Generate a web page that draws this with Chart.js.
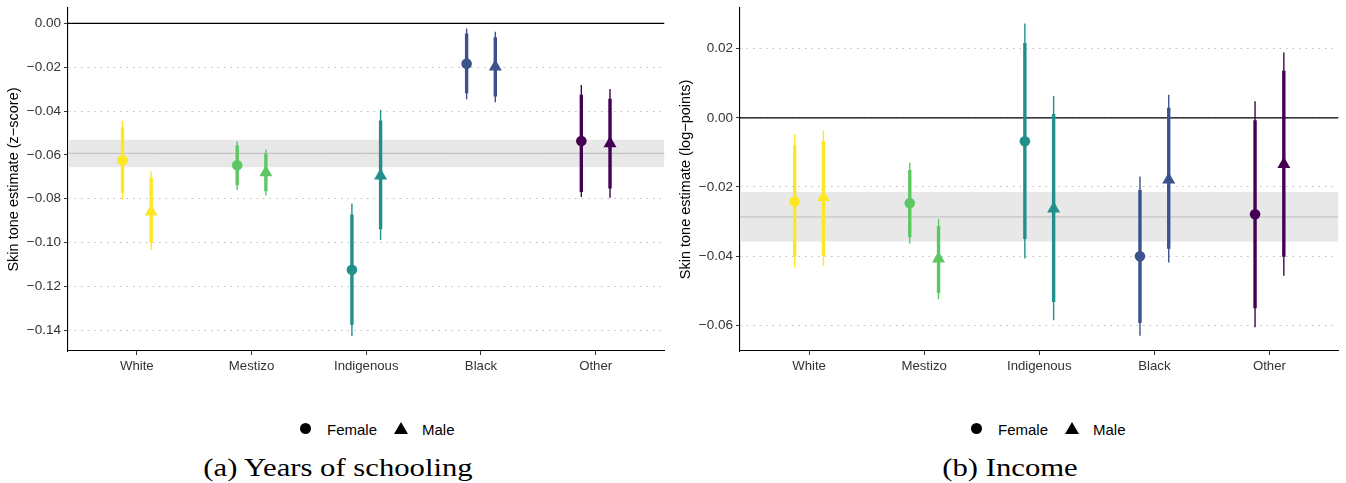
<!DOCTYPE html>
<html><head><meta charset="utf-8">
<script src="https://cdn.jsdelivr.net/npm/chart.js@4.4.1/dist/chart.umd.min.js"></script>
<style>
html,body{margin:0;padding:0;background:#fff;width:1346px;height:483px;overflow:hidden;position:relative;font-family:"Liberation Sans",Arial,sans-serif;}
canvas{position:absolute;top:0;}
#cA{left:0} #cB{left:672px}
.leg{position:absolute;font-size:15px;line-height:15px;color:#000;white-space:nowrap}
.dot{position:absolute;width:11px;height:11px;border-radius:50%;background:#000}
.tri{position:absolute;width:0;height:0;border-left:7px solid transparent;border-right:7px solid transparent;border-bottom:12px solid #000}
.cap{position:absolute;font-family:"Liberation Serif","Times New Roman",serif;font-size:26px;line-height:26px;white-space:nowrap;transform:translateX(-50%) scaleX(1.18);color:#000}
</style></head><body>
<canvas id="cA" width="672" height="400"></canvas>
<canvas id="cB" width="674" height="400"></canvas>

<div class="dot" style="left:300px;top:423px"></div>
<div class="leg" style="left:327px;top:422px">Female</div>
<div class="tri" style="left:394px;top:422px"></div>
<div class="leg" style="left:422px;top:422px">Male</div>

<div class="dot" style="left:971px;top:423px"></div>
<div class="leg" style="left:998px;top:422px">Female</div>
<div class="tri" style="left:1065px;top:422px"></div>
<div class="leg" style="left:1093px;top:422px">Male</div>

<div class="cap" style="left:338px;top:455px">(a) Years of schooling</div>
<div class="cap" style="left:1010px;top:455px">(b) Income</div>

<script>
const categories = ['White', 'Mestizo', 'Indigenous', 'Black', 'Other'];
const categoryColors = ['#FDE725', '#5DC863', '#21908C', '#3B528B', '#440154'];

// (a) Years of schooling
const schoolingYTicks = [0, -0.02, -0.04, -0.06, -0.08, -0.10, -0.12, -0.14];
const schoolingYLabels = ['0.00', '\u22120.02', '\u22120.04', '\u22120.06', '\u22120.08', '\u22120.10', '\u22120.12', '\u22120.14'];
const schoolingFemaleEst    = [-0.0625, -0.0648, -0.1124, -0.0184, -0.0537];
const schoolingFemaleLow90  = [-0.0774, -0.0739, -0.1376, -0.0319, -0.0770];
const schoolingFemaleHigh90 = [-0.0475, -0.0557, -0.0872, -0.0046, -0.0326];
const schoolingFemaleLow95  = [-0.0804, -0.0760, -0.1426, -0.0346, -0.0792];
const schoolingFemaleHigh95 = [-0.0446, -0.0538, -0.0822, -0.0023, -0.0281];
const schoolingMaleEst      = [-0.0860, -0.0680, -0.0695, -0.0198, -0.0548];
const schoolingMaleLow90    = [-0.1001, -0.0766, -0.0940, -0.0334, -0.0754];
const schoolingMaleHigh90   = [-0.0705, -0.0595, -0.0443, -0.0064, -0.0344];
const schoolingMaleLow95    = [-0.1034, -0.0786, -0.0989, -0.0360, -0.0796];
const schoolingMaleHigh95   = [-0.0675, -0.0576, -0.0394, -0.0038, -0.0300];
const schoolingPooled       = [-0.0593, -0.0657, -0.0531]; // estimate, low, high

// (b) Income
const incomeYTicks = [0.02, 0, -0.02, -0.04, -0.06];
const incomeYLabels = ['0.02', '0.00', '\u22120.02', '\u22120.04', '\u22120.06'];
const incomeFemaleEst    = [-0.0242, -0.0247, -0.0068, -0.0401, -0.0279];
const incomeFemaleLow90  = [-0.0402, -0.0346, -0.0351, -0.0594, -0.0551];
const incomeFemaleHigh90 = [-0.0079, -0.0151, 0.0217, -0.0209, -0.0007];
const incomeFemaleLow95  = [-0.0433, -0.0364, -0.0407, -0.0631, -0.0606];
const incomeFemaleHigh95 = [-0.0048, -0.0130, 0.0273, -0.0170, 0.0048];
const incomeMaleEst      = [-0.0230, -0.0408, -0.0263, -0.0179, -0.0134];
const incomeMaleLow90    = [-0.0400, -0.0507, -0.0533, -0.0379, -0.0402];
const incomeMaleHigh90   = [-0.0067, -0.0313, 0.0011, 0.0029, 0.0136];
const incomeMaleLow95    = [-0.0428, -0.0525, -0.0586, -0.0419, -0.0457];
const incomeMaleHigh95   = [-0.0036, -0.0293, 0.0063, 0.0067, 0.0189];
const incomePooled       = [-0.0287, -0.0358, -0.0215];

const FONT = '"Liberation Sans", Arial, sans-serif';
const DODGE = 0.125;
const XMIN = -0.6, XMAX = 4.6;

function makeChart(id, cfg) {
  const ds = [];
  // pooled band
  ds.push({ data: [{x: XMIN, y: cfg.pooled[2]}, {x: XMAX, y: cfg.pooled[2]}],
    fill: {value: cfg.pooled[1]}, backgroundColor: '#E8E8E8', borderColor: 'rgba(0,0,0,0)',
    borderWidth: 0, pointRadius: 0, order: 20 });
  ds.push({ data: [{x: XMIN, y: cfg.pooled[0]}, {x: XMAX, y: cfg.pooled[0]}],
    borderColor: '#BBBBBB', borderWidth: 1, pointRadius: 0, fill: false, order: 19 });
  // zero line
  ds.push({ data: [{x: XMIN, y: 0}, {x: XMAX, y: 0}],
    borderColor: '#000', borderWidth: 1.3, pointRadius: 0, fill: false, order: 18 });
  // error bars
  categories.forEach((c, i) => {
    ds.push({ data: [
        {x: i - DODGE, y: cfg.fLo95[i]}, {x: i - DODGE, y: cfg.fHi95[i]}, {x: i, y: null},
        {x: i + DODGE, y: cfg.mLo95[i]}, {x: i + DODGE, y: cfg.mHi95[i]}],
      borderColor: categoryColors[i], borderWidth: 1.4, borderCapStyle: 'butt',
      pointRadius: 0, fill: false, spanGaps: false, order: 10 });
    ds.push({ data: [
        {x: i - DODGE, y: cfg.fLo90[i]}, {x: i - DODGE, y: cfg.fHi90[i]}, {x: i, y: null},
        {x: i + DODGE, y: cfg.mLo90[i]}, {x: i + DODGE, y: cfg.mHi90[i]}],
      borderColor: categoryColors[i], borderWidth: 3.4, borderCapStyle: 'butt',
      pointRadius: 0, fill: false, spanGaps: false, order: 9 });
  });
  // points
  ds.push({ data: categories.map((c, i) => ({x: i - DODGE, y: cfg.fEst[i]})),
    showLine: false, pointStyle: 'circle', pointRadius: 5.3, pointBorderWidth: 0,
    pointBackgroundColor: categoryColors, pointBorderColor: categoryColors, order: 1 });
  ds.push({ data: categories.map((c, i) => ({x: i + DODGE, y: cfg.mEst[i]})),
    showLine: false, pointStyle: 'triangle', pointRadius: 7.5, pointBorderWidth: 0,
    pointBackgroundColor: categoryColors, pointBorderColor: categoryColors, order: 0 });

  return new Chart(document.getElementById(id), {
    type: 'line',
    data: { datasets: ds },
    options: {
      responsive: false, animation: false, devicePixelRatio: 1,
      layout: { padding: { top: 8, right: cfg.padRight, bottom: 0, left: 0 } },
      plugins: { legend: { display: false }, tooltip: { enabled: false } },
      events: [],
      scales: {
        x: {
          type: 'linear', min: XMIN, max: XMAX,
          afterBuildTicks: s => { s.ticks = categories.map((c, i) => ({ value: i })); },
          afterFit: s => { s.height = 49; s.paddingLeft = 0; s.paddingRight = 0; },
          ticks: { autoSkip: false, maxRotation: 0, padding: 3, color: '#333',
            font: { family: FONT, size: 13.2 },
            callback: v => categories[Math.round(v)] },
          grid: { drawOnChartArea: false, drawTicks: true, tickLength: 4, tickColor: '#333', tickWidth: 1 },
          border: { display: true, color: '#000', width: 1.1 }
        },
        y: {
          type: 'linear', min: cfg.yMin, max: cfg.yMax,
          afterBuildTicks: s => { s.ticks = cfg.yTicks.map(v => ({ value: v })); },
          afterFit: s => { s.width = 68; s.paddingTop = 0; s.paddingBottom = 0; },
          ticks: { padding: 3, color: '#333', font: { family: FONT, size: 13.5 },
            callback: v => cfg.yLabels[cfg.yTicks.indexOf(v)] },
          grid: { color: '#BDBDBD', lineWidth: 1, drawTicks: true, tickLength: 4,
            tickColor: '#333', tickWidth: 1, tickBorderDash: [] },
          border: { display: true, color: '#000', width: 1.1, dash: [1.5, 5] },
          title: { display: true, text: cfg.title, color: '#000',
            font: { family: FONT, size: 14.5 }, padding: { top: 4.8, bottom: 0 } }
        }
      }
    }
  });
}

makeChart('cA', {
  yMin: -0.1495, yMax: 0.0070, yTicks: schoolingYTicks, yLabels: schoolingYLabels,
  title: 'Skin tone estimate (z\u2212score)', padRight: 0,
  fEst: schoolingFemaleEst, fLo90: schoolingFemaleLow90, fHi90: schoolingFemaleHigh90,
  fLo95: schoolingFemaleLow95, fHi95: schoolingFemaleHigh95,
  mEst: schoolingMaleEst, mLo90: schoolingMaleLow90, mHi90: schoolingMaleHigh90,
  mLo95: schoolingMaleLow95, mHi95: schoolingMaleHigh95, pooled: schoolingPooled
});
makeChart('cB', {
  yMin: -0.0675, yMax: 0.0318, yTicks: incomeYTicks, yLabels: incomeYLabels,
  title: 'Skin tone estimate (log\u2212points)', padRight: 3,
  fEst: incomeFemaleEst, fLo90: incomeFemaleLow90, fHi90: incomeFemaleHigh90,
  fLo95: incomeFemaleLow95, fHi95: incomeFemaleHigh95,
  mEst: incomeMaleEst, mLo90: incomeMaleLow90, mHi90: incomeMaleHigh90,
  mLo95: incomeMaleLow95, mHi95: incomeMaleHigh95, pooled: incomePooled
});
</script>
</body></html>
